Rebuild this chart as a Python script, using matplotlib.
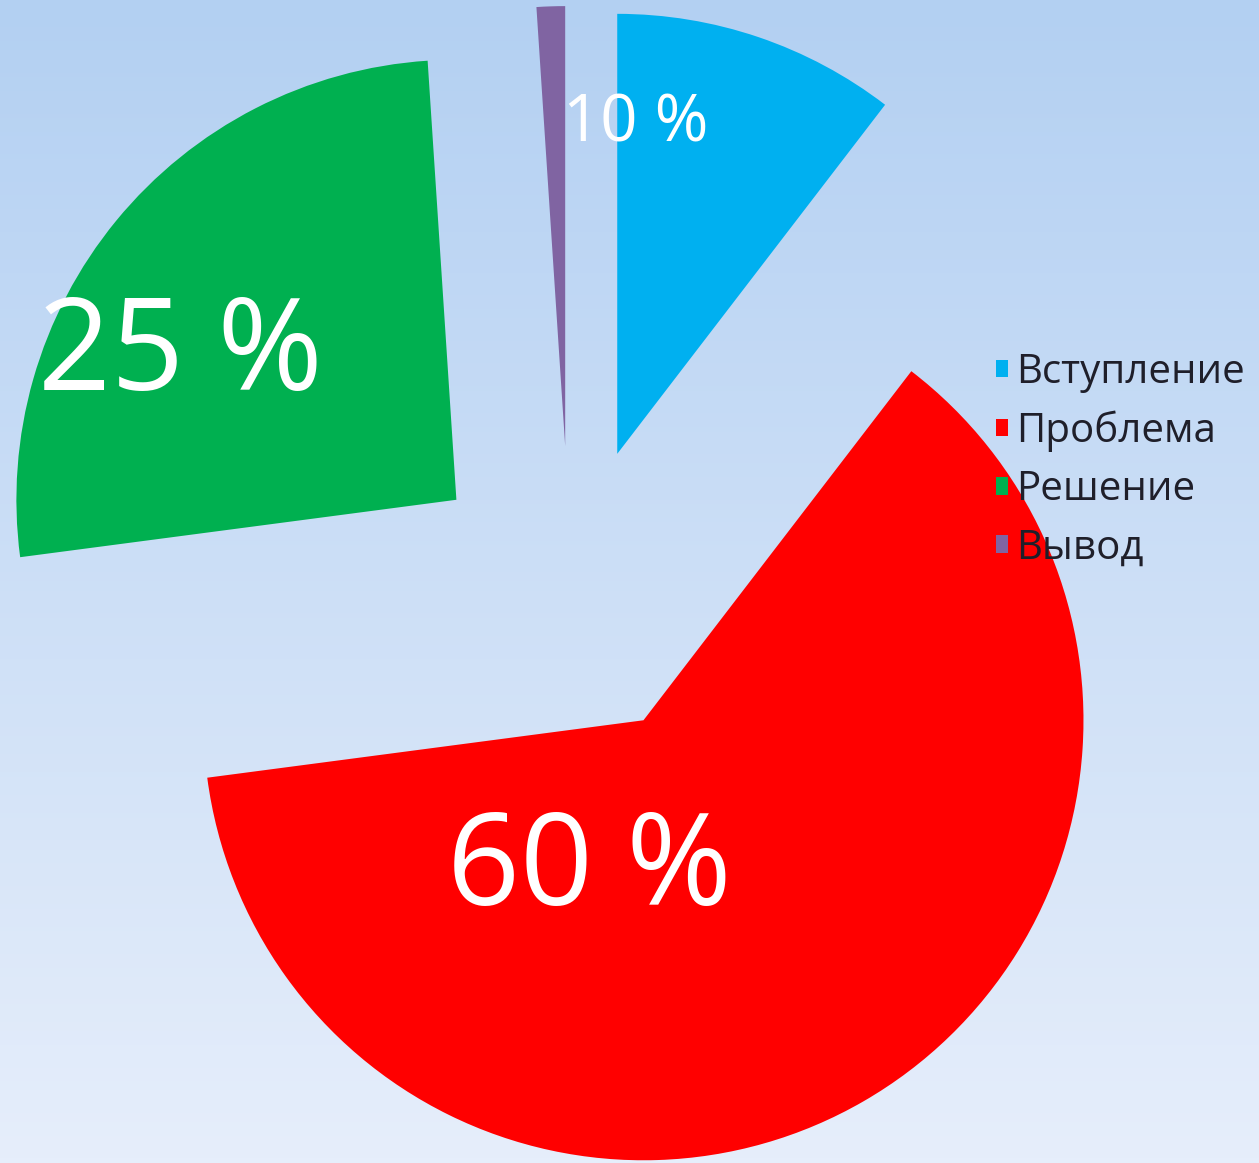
import numpy as np
import matplotlib
matplotlib.use("Agg")
import matplotlib.pyplot as plt
from matplotlib.colors import LinearSegmentedColormap

plt.rcParams['font.family'] = ['Open Sans', 'DejaVu Sans']

# data
labels = ["Вступление", "Проблема", "Решение", "Вывод"]
values = [10, 60, 25, 1]
colors = ["#00B0F0", "#FF0000", "#00B050", "#8064A2"]
value_texts = ["10 %", "60 %", "25 %", ""]

fig = plt.figure(figsize=(12.59, 11.63), dpi=100)

# background gradient
bg = fig.add_axes([0, 0, 1, 1])
grad = np.linspace(0, 1, 256).reshape(-1, 1)
cmap = LinearSegmentedColormap.from_list("bg", ["#B3D0F2", "#E6EEFB"])
bg.imshow(grad, aspect="auto", cmap=cmap, extent=[0, 1, 0, 1])
bg.set_axis_off()

ax = fig.add_axes([0, 0, 1, 1])
ax.patch.set_alpha(0)
wedges, _ = ax.pie(values, colors=colors, startangle=90, counterclock=False,
                   explode=[0.334] * len(values), radius=1.0,
                   wedgeprops=dict(linewidth=0))

# pixel mapping: centre at (570, 593), radius 440 px
ax.set_xlim(-570 / 440, (1259 - 570) / 440)
ax.set_ylim(-(1163 - 593) / 440, 593 / 440)
ax.set_axis_off()

# percentage labels
label_pos = {"10 %": (0.15, 1.025, 47), "60 %": (0.045, -0.709, 92), "25 %": (-0.885, 0.461, 92)}
for t in value_texts:
    if t:
        x, y, fs = label_pos[t]
        ax.text(x, y, t, color="white", fontsize=fs, ha="center", va="baseline")

leg = ax.legend(wedges, labels, loc="upper left", bbox_to_anchor=(0.791, 0.697),
                frameon=False, fontsize=29, handlelength=0.3, handleheight=0.3,
                handletextpad=0.2, labelspacing=0.44, borderpad=0, borderaxespad=0)
for txt in leg.get_texts():
    txt.set_color("#1F1F2A")

fig.savefig("out.png", dpi=100)
